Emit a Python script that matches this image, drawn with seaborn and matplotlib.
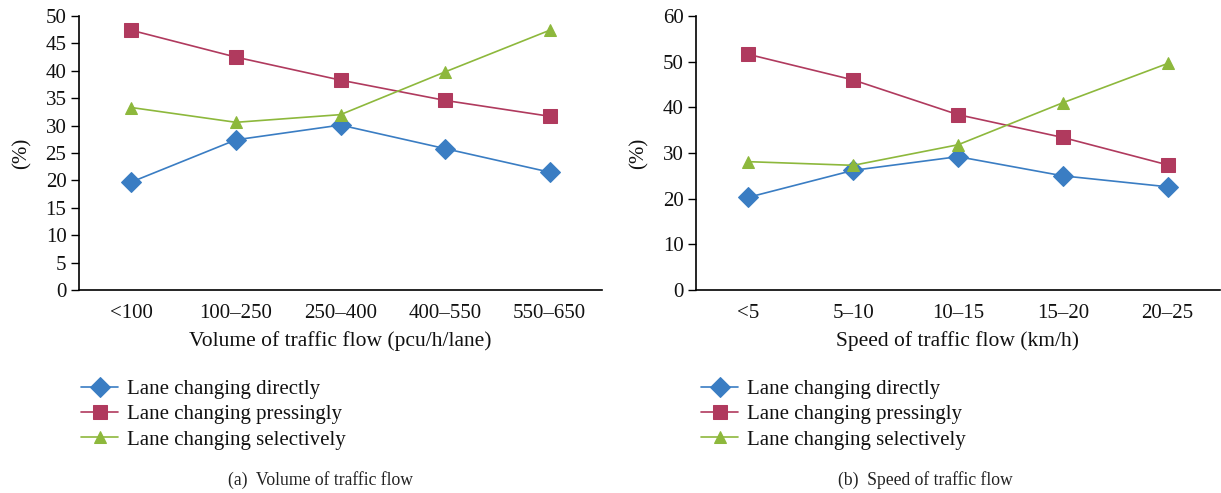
import matplotlib
matplotlib.use("Agg")
import matplotlib.pyplot as plt
import seaborn as sns
import pandas as pd

sns.set_theme(style="white")
plt.rcParams['font.family'] = ['Liberation Serif', 'DejaVu Serif']

vol_cats = ["<100", "100\u2013250", "250\u2013400", "400\u2013550", "550\u2013650"]
vol_direct = [19.7, 27.4, 30.1, 25.8, 21.5]
vol_press = [47.4, 42.5, 38.3, 34.6, 31.7]
vol_select = [33.3, 30.6, 32.0, 39.8, 47.4]

spd_cats = ["<5", "5\u201310", "10\u201315", "15\u201320", "20\u201325"]
spd_direct = [20.3, 26.2, 29.2, 25.0, 22.6]
spd_press = [51.6, 46.0, 38.4, 33.4, 27.4]
spd_select = [28.1, 27.3, 31.8, 41.0, 49.6]

series_names = ["Lane changing directly", "Lane changing pressingly", "Lane changing selectively"]
colors = ["#3a7dc3", "#b03a5e", "#8db83c"]
markers = ["D", "s", "^"]
msizes = [10, 10, 9]

W, H = 1221, 493
fig = plt.figure(figsize=(W / 100, H / 100), dpi=100)

def px_axes(x0, x1, ytop, ybot):
    return fig.add_axes([x0 / W, (H - ybot) / H, (x1 - x0) / W, (ybot - ytop) / H])

def draw(ax, cats, data, ymax, ystep, xlabel, legend_x):
    for name, vals, c, m, ms in zip(series_names, data, colors, markers, msizes):
        df = pd.DataFrame({"x": range(len(cats)), "y": vals})
        sns.lineplot(data=df, x="x", y="y", ax=ax, color=c, marker=m, markersize=ms,
                     markeredgecolor=c, linewidth=1.2, label=name)
    ax.set_xlim(-0.5, len(cats) - 0.5)
    ax.set_ylim(0, ymax)
    ax.set_xticks(range(len(cats)))
    ax.set_xticklabels(cats)
    ax.set_yticks(range(0, ymax + 1, ystep))
    for s in ["top", "right"]:
        ax.spines[s].set_visible(False)
    for s in ["left", "bottom"]:
        ax.spines[s].set_color("black")
        ax.spines[s].set_linewidth(1.2)
    ax.tick_params(axis="y", left=True, length=6, width=1, color="black", labelsize=15, pad=3,
                   labelcolor="#111111")
    ax.tick_params(axis="x", bottom=False, labelsize=15, pad=4, labelcolor="#111111")
    ax.set_xlabel(xlabel, fontsize=15.5, labelpad=6, color="#111111")
    ax.set_ylabel("(%)", fontsize=15, labelpad=10, color="#111111")
    ax.grid(False)
    leg = ax.legend(loc="upper left", bbox_to_anchor=(legend_x / W, (H - 371) / H),
                    bbox_transform=fig.transFigure, frameon=False, fontsize=15,
                    handlelength=1.75, handletextpad=0.45, labelspacing=0.28, borderaxespad=0)
    for t in leg.get_texts():
        t.set_color("#111111")

ax1 = px_axes(79, 602, 16, 290)
draw(ax1, vol_cats, [vol_direct, vol_press, vol_select], 50, 5,
     "Volume of traffic flow (pcu/h/lane)", 73)
ax2 = px_axes(696, 1220, 16, 290)
draw(ax2, spd_cats, [spd_direct, spd_press, spd_select], 60, 10,
     "Speed of traffic flow (km/h)", 693)

fig.text(320 / W, 1 - 480 / H, "(a)  Volume of traffic flow", ha="center", va="center", fontsize=12.7, color="#222222")
fig.text(925 / W, 1 - 480 / H, "(b)  Speed of traffic flow", ha="center", va="center", fontsize=12.7, color="#222222")

fig.savefig("out.png", dpi=100)
